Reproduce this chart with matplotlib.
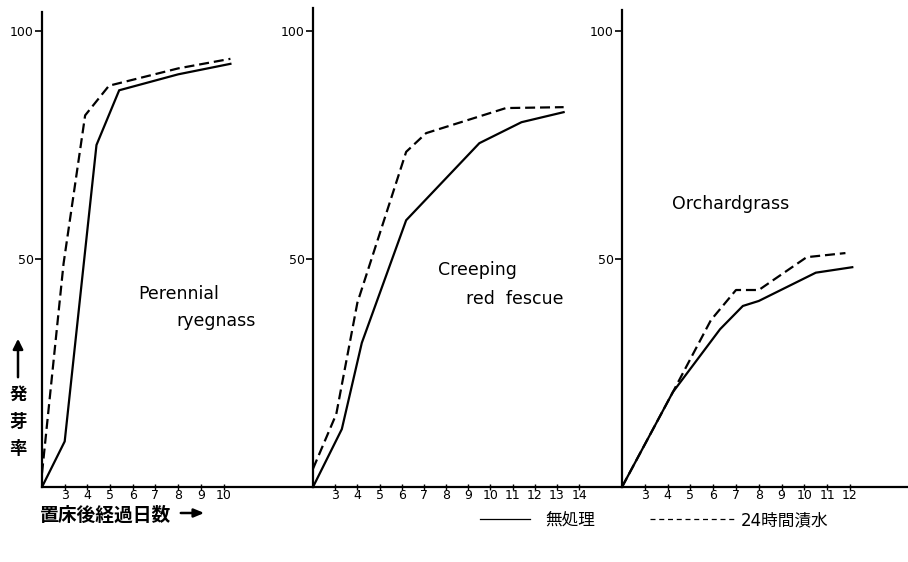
import matplotlib
matplotlib.use("Agg")
import matplotlib.pyplot as plt
from matplotlib.lines import Line2D

plt.rcParams['font.family'] = ['DejaVu Sans', 'Noto Sans CJK JP']

# 置床後経過日数 (x) と 発芽率 (%) : a = 無処理, b = 24時間漬水
pr_days_a = [2, 3, 4.4, 5.4, 8, 10.3]
pr_rate_a = [0, 10, 75, 87, 90.5, 92.8]
pr_days_b = [2, 2.95, 3.9, 4.95, 8, 10.3]
pr_rate_b = [3, 49, 81.5, 88, 91.8, 93.9]

cf_days_a = [2, 3.3, 4.2, 6.2, 9.5, 11.4, 13.3]
cf_rate_a = [0, 12.7, 31.6, 58.5, 75.4, 80, 82.2]
cf_days_b = [2, 3.05, 4.0, 6.2, 7.1, 10.7, 13.3]
cf_rate_b = [4, 16, 40.4, 73.5, 77.6, 83.1, 83.3]

og_days_a = [2, 4.23, 6.3, 7.3, 8.0, 10.5, 12.1]
og_rate_a = [0, 20.8, 34.6, 39.7, 40.8, 47, 48.2]
og_days_b = [2, 4.23, 5.9, 7.0, 8.0, 10.1, 11.8]
og_rate_b = [0, 20.8, 36.6, 43.2, 43.2, 50.4, 51.3]

pr_ticks = list(range(3, 11))
cf_ticks = list(range(3, 15))
og_ticks = list(range(3, 13))

W, H = 908, 562
fig = plt.figure(figsize=(W / 100, H / 100), dpi=100)

base = 487      # pixel row of x axis
scale = 4.56    # pixel per %

# (left px, right px, top px, px per day)
panels = [
    (42, 313, 12, 22.7, pr_days_a, pr_rate_a, pr_days_b, pr_rate_b, pr_ticks),
    (313, 622, 8, 22.18, cf_days_a, cf_rate_a, cf_days_b, cf_rate_b, cf_ticks),
    (622, 908, 10, 22.8, og_days_a, og_rate_a, og_days_b, og_rate_b, og_ticks),
]

axes = []
for left, right, top, dpx, da, ra, db, rb, ticks in panels:
    ax = fig.add_axes([left / W, (H - base) / H, (right - left) / W, (base - top) / H])
    ax.plot(da, ra, color='black', lw=1.6, solid_joinstyle='miter')
    ax.plot(db, rb, color='black', lw=1.6, linestyle=(0, (4.5, 2.2)))
    ax.set_xlim(2, 2 + (right - left) / dpx)
    ax.set_ylim(0, (base - top) / scale)
    for s in ['top', 'right']:
        ax.spines[s].set_visible(False)
    ax.spines['left'].set_linewidth(1.6)
    ax.spines['bottom'].set_linewidth(1.6)
    ax.set_yticks([50, 100])
    ax.set_yticklabels(['50', '100'], fontsize=9)
    ax.tick_params(axis='y', length=5, width=1.2, pad=1)
    ax.set_xticks(ticks)
    ax.set_xticklabels([str(t) for t in ticks], fontsize=9)
    ax.tick_params(axis='x', direction='inout', length=5, width=1, pad=-1)
    ax.patch.set_alpha(0)
    axes.append(ax)

axes[0].text(6.25, 42.3, 'Perennial', fontsize=12.5, va='center')
axes[0].text(7.9, 36.4, 'ryegnass', fontsize=12.5, va='center')
axes[1].text(7.65, 47.5, 'Creeping', fontsize=12.5, va='center')
axes[1].text(8.9, 41.3, 'red  fescue', fontsize=12.5, va='center')
axes[2].text(4.2, 62, 'Orchardgrass', fontsize=12.5, va='center')

# 縦軸ラベル
fig.add_artist(matplotlib.patches.FancyArrowPatch(
    (18 / W, 1 - 380 / H), (18 / W, 1 - 336 / H), transform=fig.transFigure,
    arrowstyle='-|>,head_length=6,head_width=3', color='black', lw=1.8))
for i, ch in enumerate('発芽率'):
    fig.text(18 / W, 1 - (395 + 27 * i) / H, ch, fontsize=12.5, fontweight='bold',
             ha='center', va='center')

# 横軸ラベル
fig.text(40 / W, 1 - 515 / H, '置床後経過日数', fontsize=13.5, fontweight='bold',
         ha='left', va='center')
fig.add_artist(matplotlib.patches.FancyArrowPatch(
    (178 / W, 1 - 513 / H), (207 / W, 1 - 513 / H), transform=fig.transFigure,
    arrowstyle='-|>,head_length=6,head_width=2.5', color='black', lw=1.8))

# 凡例
solid_h = Line2D([], [], color='black', lw=0.9)
dash_h = Line2D([], [], color='black', lw=0.9, linestyle=(0, (4, 3)))
leg1 = fig.legend([solid_h], ['無処理'], loc='center left', bbox_to_anchor=(480 / W, 1 - 520 / H),
                  frameon=False, fontsize=12, handlelength=3.0, handletextpad=0.9,
                  borderpad=0, borderaxespad=0)
fig.legend([dash_h], ['24時間漬水'], loc='center left', bbox_to_anchor=(650 / W, 1 - 520 / H),
           frameon=False, fontsize=12, handlelength=5.1, handletextpad=0.35,
           borderpad=0, borderaxespad=0)

fig.savefig('out.png', dpi=100)
